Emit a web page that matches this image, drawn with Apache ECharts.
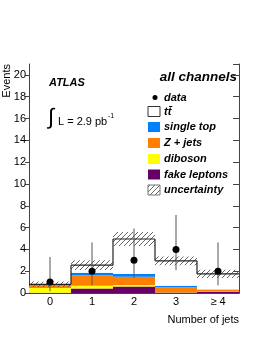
<!DOCTYPE html>
<html><head><meta charset="utf-8">
<script src="https://cdn.jsdelivr.net/npm/echarts@6/dist/echarts.min.js"></script>
<style>html,body{margin:0;padding:0;background:#fff}#c{width:262px;height:339px}</style>
</head><body><div id="c"></div>
<script>
// ---- data ----
const categories = ['0', '1', '2', '3', '\u2265 4'];
const fakeLeptons = [0.02, 0.42, 0.60, 0.05, 0.12];
const diboson     = [0.43, 0.25, 0.14, 0.02, 0.01];
const zJets       = [0.28, 0.96, 0.76, 0.45, 0.14];
const singleTop   = [0.02, 0.22, 0.24, 0.15, 0.05];
const ttbar       = [0.05, 0.70, 3.21, 2.28, 1.43];
const uncertainty = [0.25, 0.45, 0.65, 0.40, 0.38];
const dataValues  = [1, 2, 3, 4, 2];
const dataLow     = [0.17, 0.71, 1.37, 2.09, 0.71];
const dataHigh    = [3.30, 4.64, 5.92, 7.16, 4.64];
const yTicks      = [0, 2, 4, 6, 8, 10, 12, 14, 16, 18, 20];

const FONT = "'Liberation Sans', Arial, Helvetica, sans-serif";
const colors = {fake:'#660066', dib:'#ffff00', z:'#ff8000', st:'#0080ff', tt:'#ffffff'};

const total = categories.map((c,i)=>fakeLeptons[i]+diboson[i]+zJets[i]+singleTop[i]+ttbar[i]);

function makeHatch(){
  const c=document.createElement('canvas'); c.width=5; c.height=5;
  const g=c.getContext('2d'); g.strokeStyle='#555'; g.lineWidth=0.9;
  g.beginPath();
  g.moveTo(-1,6); g.lineTo(6,-1);
  g.moveTo(-1,1); g.lineTo(1,-1);
  g.moveTo(4,6); g.lineTo(6,4);
  g.stroke();
  return c;
}
const hatch = makeHatch();

const chart = echarts.init(document.getElementById('c'), null, {renderer:'canvas'});

function bar(name, arr, color){
  return {name, type:'bar', stack:'mc', data:arr, barWidth:'100%', barCategoryGap:'0%',
    itemStyle:{color}, emphasis:{disabled:true}, silent:true, z:2};
}

const axisLineStyle = {color:'#444', width:1};

chart.setOption({
  animation:false,
  grid:{left:29, right:23, top:64, bottom:46},
  xAxis:[
    {type:'category', data:categories, position:'bottom', boundaryGap:true,
     axisLine:{lineStyle:axisLineStyle}, axisTick:{inside:true, alignWithLabel:true, length:7, lineStyle:axisLineStyle},
     axisLabel:{color:'#000', fontFamily:FONT, fontSize:11, margin:3}, splitLine:{show:false}},
    {type:'category', data:categories, position:'top', boundaryGap:true,
     axisLine:{lineStyle:axisLineStyle}, axisTick:{inside:true, alignWithLabel:true, length:7, lineStyle:axisLineStyle},
     axisLabel:{show:false}, splitLine:{show:false}}
  ],
  yAxis:[
    {type:'value', min:0, max:21, interval:2, position:'left',
     axisLine:{show:true, lineStyle:axisLineStyle}, axisTick:{show:true, inside:false, length:4, lineStyle:axisLineStyle},
     axisLabel:{color:'#000', fontFamily:FONT, fontSize:11, margin:3, showMaxLabel:false,
       formatter:v=>yTicks.includes(v)?String(v):''}, splitLine:{show:false}},
    {type:'value', min:0, max:21, interval:2, position:'right',
     axisLine:{show:true, lineStyle:axisLineStyle}, axisTick:{show:true, inside:true, length:6, lineStyle:axisLineStyle},
     axisLabel:{show:false}, splitLine:{show:false}}
  ],
  series:[
    bar('fake leptons', fakeLeptons, colors.fake),
    bar('diboson', diboson, colors.dib),
    bar('Z + jets', zJets, colors.z),
    bar('single top', singleTop, colors.st),
    bar('ttbar', ttbar, colors.tt),
    {type:'custom', name:'uncertainty', z:3, silent:true,
     data: categories.map((c,i)=>[i, total[i]-uncertainty[i], total[i]+uncertainty[i]]),
     renderItem:(params, api)=>{
       const i=api.value(0), lo=api.value(1), hi=api.value(2);
       const p1=api.coord([i,hi]), p2=api.coord([i,lo]); const w=api.size([1,0])[0];
       return {type:'rect', shape:{x:p1[0]-w/2, y:p1[1], width:w, height:p2[1]-p1[1]},
               style:{fill:{image:hatch, repeat:'repeat'}}};
     }},
    {type:'custom', name:'outline', z:4, silent:true,
     data: categories.map((c,i)=>[i, total[i], i>0?total[i-1]:total[i]]),
     renderItem:(params, api)=>{
       const i=api.value(0), v=api.value(1), prev=api.value(2);
       const p=api.coord([i,v]); const w=api.size([1,0])[0];
       const pp=api.coord([i,prev]);
       const children=[{type:'line', shape:{x1:p[0]-w/2, y1:p[1], x2:p[0]+w/2, y2:p[1]},
                        style:{stroke:'#222', lineWidth:1.2}}];
       if(i>0) children.push({type:'line', shape:{x1:p[0]-w/2, y1:pp[1], x2:p[0]-w/2, y2:p[1]},
                        style:{stroke:'#222', lineWidth:1.2}});
       return {type:'group', children};
     }},
    {type:'custom', name:'data', z:5, silent:true,
     data: categories.map((c,i)=>[i, dataValues[i], dataLow[i], dataHigh[i]]),
     renderItem:(params, api)=>{
       const i=api.value(0);
       const p=api.coord([i,api.value(1)]), lo=api.coord([i,api.value(2)]), hi=api.coord([i,api.value(3)]);
       return {type:'group', children:[
         {type:'line', shape:{x1:p[0], y1:lo[1], x2:p[0], y2:hi[1]}, style:{stroke:'#555', lineWidth:1}},
         {type:'circle', shape:{cx:p[0], cy:p[1], r:3.5}, style:{fill:'#000'}}
       ]};
     }}
  ],
  graphic:[
    {type:'text', x:7, y:64, rotation:Math.PI/2,
     style:{text:'Events', font:'11px '+FONT, fill:'#000', textAlign:'right', textVerticalAlign:'middle'}},
    {type:'text', x:239, y:320,
     style:{text:'Number of jets', font:'11px '+FONT, fill:'#000', textAlign:'right', textVerticalAlign:'middle'}},
    {type:'text', x:49, y:83,
     style:{text:'ATLAS', font:'italic bold 11px '+FONT, fill:'#000', textAlign:'left', textVerticalAlign:'middle'}},
    {type:'text', x:48, y:118,
     style:{text:'\u222B', font:'22px '+FONT, fill:'#000', textAlign:'left', textVerticalAlign:'middle'}},
    {type:'text', x:58, y:122,
     style:{text:'L = 2.9 pb', font:'11px '+FONT, fill:'#000', textAlign:'left', textVerticalAlign:'middle'}},
    {type:'text', x:108, y:116,
     style:{text:'-1', font:'7px '+FONT, fill:'#000', textAlign:'left', textVerticalAlign:'middle'}},
    {type:'text', x:237, y:77,
     style:{text:'all channels', font:'italic bold 13.5px '+FONT, fill:'#000', textAlign:'right', textVerticalAlign:'middle'}},
    // legend
    {type:'circle', shape:{cx:155, cy:97.5, r:2.5}, style:{fill:'#000'}},
    {type:'text', x:164, y:97.5, style:{text:'data', font:'italic bold 11px '+FONT, fill:'#000', textVerticalAlign:'middle'}},
    {type:'rect', shape:{x:148, y:106.5, width:12, height:10}, style:{fill:'#fff', stroke:'#333', lineWidth:1}},
    {type:'text', x:164, y:111.5, style:{text:'tt\u0304', font:'italic bold 11px '+FONT, fill:'#000', textVerticalAlign:'middle'}},
    {type:'rect', shape:{x:148, y:122, width:12, height:10}, style:{fill:colors.st}},
    {type:'text', x:164, y:127, style:{text:'single top', font:'italic bold 11px '+FONT, fill:'#000', textVerticalAlign:'middle'}},
    {type:'rect', shape:{x:148, y:138, width:12, height:10}, style:{fill:colors.z}},
    {type:'text', x:164, y:143, style:{text:'Z + jets', font:'italic bold 11px '+FONT, fill:'#000', textVerticalAlign:'middle'}},
    {type:'rect', shape:{x:148, y:154, width:12, height:10}, style:{fill:colors.dib}},
    {type:'text', x:164, y:159, style:{text:'diboson', font:'italic bold 11px '+FONT, fill:'#000', textVerticalAlign:'middle'}},
    {type:'rect', shape:{x:148, y:169.5, width:12, height:10}, style:{fill:colors.fake}},
    {type:'text', x:164, y:174.5, style:{text:'fake leptons', font:'italic bold 11px '+FONT, fill:'#000', textVerticalAlign:'middle'}},
    {type:'rect', shape:{x:148, y:185, width:12, height:10}, style:{fill:{image:hatch, repeat:'repeat'}, stroke:'#777', lineWidth:1}},
    {type:'text', x:164, y:190, style:{text:'uncertainty', font:'italic bold 11px '+FONT, fill:'#000', textVerticalAlign:'middle'}}
  ]
});
</script>
</body></html>
